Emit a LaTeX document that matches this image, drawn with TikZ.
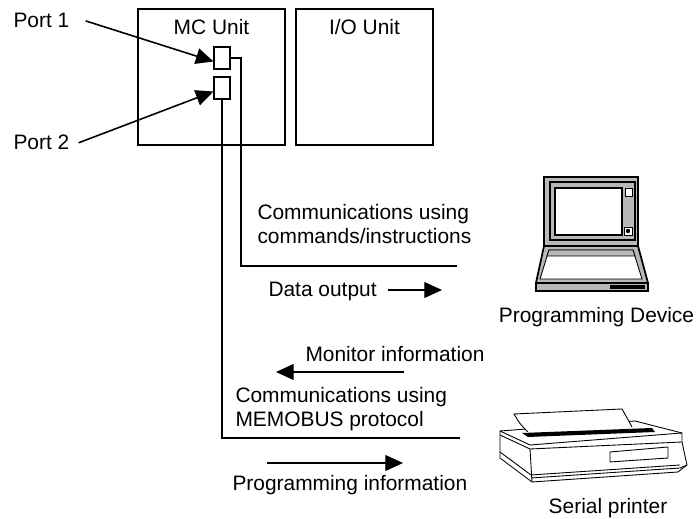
\documentclass[tikz,border=0pt]{standalone}
\usepackage{fontspec}
\setmainfont{Liberation Sans}
\usetikzlibrary{arrows.meta}

\begin{document}
\begin{tikzpicture}[x=0.02cm,y=-0.02cm,
    font=\fontsize{11.9}{14.2}\selectfont,
    >={Triangle[length=10pt,width=9pt]},line width=0.6pt,
    unit/.style={draw,minimum width=2.94cm,minimum height=2.72cm,inner sep=0pt},
    port/.style={draw,minimum width=0.32cm,minimum height=0.44cm,inner sep=0pt},
    txt/.style={anchor=base west,inner sep=0pt,align=left},
    lbl/.style={anchor=base,inner sep=0pt},
    casing/.style={fill=black!28}]
  \useasboundingbox (0,0) rectangle (698,519);

  % controller units
  \node[unit] (mc) at (211.5,77) {};
  \node[unit,minimum width=2.74cm] (io) at (364.5,77) {};
  \node[lbl] (mclbl) at (211.5,35) {MC Unit};
  \node[lbl] (iolbl) at (364.5,35) {I/O Unit};

  % ports
  \node[port] (port1) at (222,58) {};
  \node[port] (port2) at (222,88) {};
  \node[txt] (port1lbl) at (13,28) {Port 1};
  \node[txt] (port2lbl) at (13,150) {Port 2};
  \draw[->,line width=0.9pt] ([xshift=9pt]port1lbl.east) -- ([yshift=-2pt]port1.west);
  \draw[->,line width=0.9pt] ([xshift=5pt]port2lbl.east) -- ([yshift=-2pt]port2.west);

  % cables
  \coordinate (bend1) at (241,266);
  \coordinate (pdend) at (457,266);
  \coordinate (bend2) at (222,438);
  \coordinate (spend) at (460,438);
  \draw (port1.east) -| (bend1) -- (pdend);
  \draw (port2.south) -- (bend2) -- (spend);

  % texts along the cables (base = last line)
  \node[txt] (cmdtxt) at (257,244) {Communications using\\commands/instructions};
  \node[txt] (dataout) at (268,297) {Data output};
  \node[txt] (montxt) at (305,362) {Monitor information};
  \node[txt] (memotxt) at (235,427) {Communications using\\MEMOBUS protocol};
  \node[txt] (progtxt) at (232,491) {Programming information};

  \coordinate (d1) at (388,290);
  \coordinate (d2) at (442,290);
  \coordinate (m1) at (404,372);
  \coordinate (m2) at (276,372);
  \coordinate (p1) at (267,463);
  \coordinate (p2) at (403,463);
  \draw[->] (d1) -- (d2);
  \draw[->] (m1) -- (m2);
  \draw[->] (p1) -- (p2);

  % programming device (laptop)
  \begin{scope}[line width=1pt]
    \draw[casing] (544,177) rectangle (638,246);
    \draw[line width=0.6pt] (550,182) rectangle (635,240);
    \draw[fill=white] (555,188) rectangle (622,235);
    \draw[fill=white,line width=0.5pt] (625,188) rectangle (632,196);
    \draw[fill=white,line width=0.5pt] (624,227) rectangle (632,235);
    \fill (628,231) circle (2.2);
    \draw[casing] (544,246) -- (638,246) -- (648,283) -- (536,283) -- cycle;
    \draw[fill=white,line width=0.5pt] (549,250) -- (633,250) -- (642,279) -- (540,279) -- cycle;
    \draw[casing,line width=0.5pt] (549,250) -- (633,250) -- (635,256) -- (547,256) -- cycle;
    \draw[casing] (536,283) rectangle (648,291);
    \fill (610,285) rectangle (645,289);
  \end{scope}
  \node[lbl] (pdlbl) at (596.5,323) {Programming Device};

  % serial printer
  \begin{scope}[line width=0.5pt]
    \draw[fill=white] (500,431) -- (635,421) -- (682,433) -- (682,442)
      -- (687,465) -- (678,472) -- (532,482) -- (500,458) -- cycle;
    \draw (500,431) -- (530,445) -- (682,433);
    \draw (500,435) -- (530,449) -- (682,442);
    \draw (530,449) -- (532,482);
    \draw (500,452) -- (531,475) -- (680,465);
    \draw (687,465) -- (680,468) -- (531,478);
    \draw (610,452) -- (668,447) -- (668,458) -- (610,462) -- cycle;
    \fill[white] (514,414) -- (622,409) .. controls (626,416) .. (632,427)
      -- (528,432) .. controls (520,424) .. (514,414);
    \draw (528,432) .. controls (520,424) .. (514,414) -- (622,409)
      .. controls (626,416) .. (632,427);
    \fill (522,433) -- (652,428) -- (655,432) -- (528,437) -- cycle;
  \end{scope}
  \node[lbl] (splbl) at (608,514) {Serial printer};
\end{tikzpicture}
\end{document}
